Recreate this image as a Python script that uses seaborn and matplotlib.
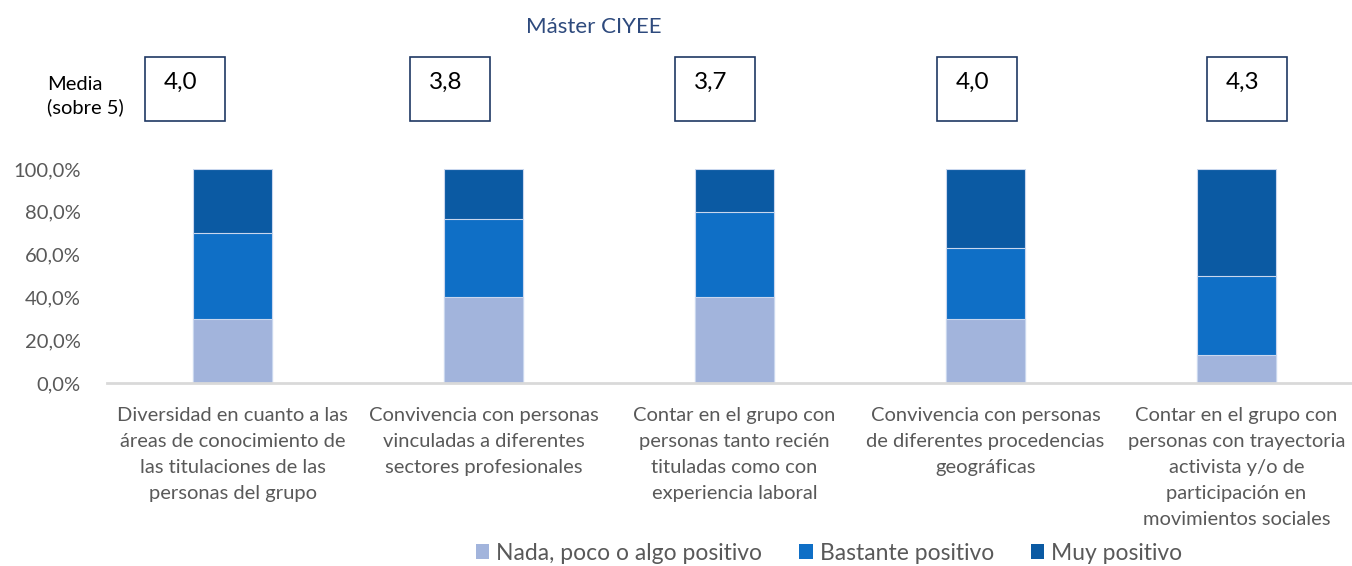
import numpy as np
import pandas as pd
import seaborn as sns
import matplotlib.pyplot as plt
from matplotlib.patches import Rectangle, Patch

categorias = [
    "Diversidad en cuanto a las\náreas de conocimiento de\nlas titulaciones de las\npersonas del grupo",
    "Convivencia con personas\nvinculadas a diferentes\nsectores profesionales",
    "Contar en el grupo con\npersonas tanto recién\ntituladas como con\nexperiencia laboral",
    "Convivencia con personas\nde diferentes procedencias\ngeográficas",
    "Contar en el grupo con\npersonas con trayectoria\nactivista y/o de\nparticipación en\nmovimientos sociales",
]
nada_poco = [30.0, 40.0, 40.0, 30.0, 13.3]
bastante = [40.0, 36.7, 40.0, 33.3, 36.7]
muy = [30.0, 23.3, 20.0, 36.7, 50.0]
medias = [4.0, 3.8, 3.7, 4.0, 4.3]
series = ["Nada, poco o algo positivo", "Bastante positivo", "Muy positivo"]
colores = ["#A2B4DC", "#0F6FC6", "#0B5AA3"]

sns.set_theme(style="white")
plt.rcParams['font.family'] = ['Lato', 'DejaVu Sans']

df = pd.DataFrame({"cat": categorias, "a": nada_poco, "b": bastante, "c": muy})
df["cum_a"] = df["a"] / 100
df["cum_b"] = (df["a"] + df["b"]) / 100
df["cum_c"] = (df["a"] + df["b"] + df["c"]) / 100

W, H = 1352, 566
fig = plt.figure(figsize=(W / 100, H / 100), dpi=100)
ax = fig.add_axes([107 / W, 183 / H, 1255 / W, 214 / H])

# stacked bars: draw from the top down
for col, color in zip(["cum_c", "cum_b", "cum_a"], colores[::-1]):
    sns.barplot(data=df, x="cat", y=col, color=color, width=0.315,
                edgecolor="#C9D7EE", linewidth=0.8, ax=ax, saturation=1)

ax.set_xlim(-0.5, 4.5)
ax.set_ylim(0, 1.0)
ax.set_xlabel("")
ax.set_ylabel("")
ax.set_yticks(np.arange(0, 1.01, 0.2))
ax.set_yticklabels([f"{v:.1f}%".replace(".", ",") for v in np.arange(0, 101, 20)],
                   fontsize=14.5, color="#595959")
ax.set_xticks(range(len(categorias)))
ax.set_xticklabels(categorias, fontsize=14.5, color="#595959", linespacing=1.65,
                   va="top")
ax.set_xticks(np.arange(-0.5, 5, 1), minor=True)
ax.tick_params(axis="x", which="major", length=0, pad=17)
ax.tick_params(axis="x", which="minor", length=8, width=1.5, color="#D9D9D9",
               direction="out")
ax.tick_params(axis="y", length=0, pad=19)
for s in ["top", "right", "left"]:
    ax.spines[s].set_visible(False)
ax.spines["bottom"].set_color("#D9D9D9")
ax.spines["bottom"].set_linewidth(2)

# title
fig.text(594 / W, 1 - 27 / H, "Máster CIYEE", ha="center", va="center",
         fontsize=16, color="#2E4A7D")

# mean boxes
fig.text(47 / W, 1 - 96 / H, "Media\n(sobre 5)", ha="left", va="center",
         fontsize=14.5, color="#000000", linespacing=1.4)
box_left = [145, 410, 675, 937, 1207]
for x0, m in zip(box_left, medias):
    fig.patches.append(Rectangle((x0 / W, 1 - 121 / H), 80 / W, 64 / H,
                                 transform=fig.transFigure, fill=False,
                                 edgecolor="#1F3864", linewidth=1.2))
    fig.text((x0 + 19) / W, 1 - 82 / H, f"{m:.1f}".replace(".", ","),
             ha="left", va="center", fontsize=17.5, color="#000000")

handles = [Patch(facecolor=c, edgecolor="none") for c in colores]
fig.legend(handles, series, loc="center", bbox_to_anchor=(829 / W, 1 - 553 / H),
           ncol=3, frameon=False, fontsize=16.5, handlelength=0.6,
           handleheight=0.6, handletextpad=0.3, columnspacing=1.6,
           labelcolor="#595959")

fig.savefig("out.png", dpi=100)
